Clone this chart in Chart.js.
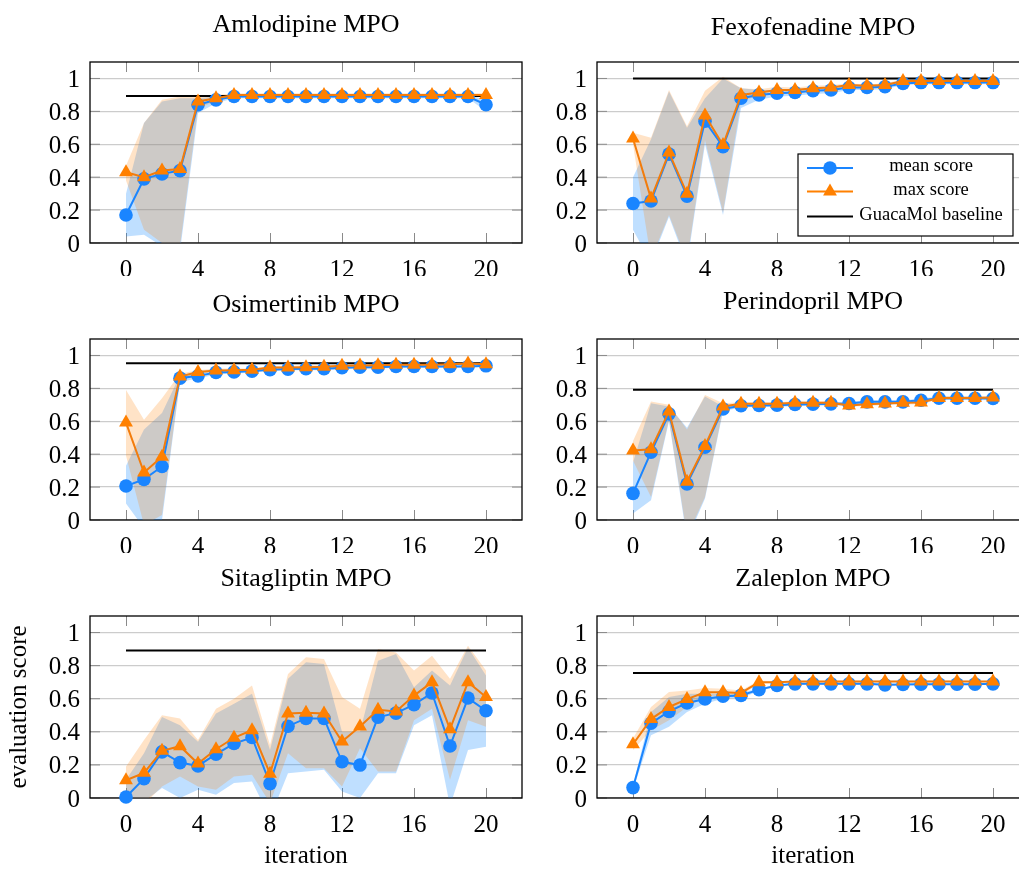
<!DOCTYPE html>
<html lang="en">
<head>
<meta charset="UTF-8">
<title>MPO benchmark scores per iteration</title>
<script src="https://cdn.jsdelivr.net/npm/chart.js"></script>
<style>
  html, body { margin: 0; padding: 0; background: #fff; overflow: hidden; }
  body { width: 1019px; height: 870px; position: relative; }
  canvas { position: absolute; }
</style>
</head>
<body>
<canvas id="c1" width="530" height="276" style="left:0;top:0"></canvas>
<canvas id="c2" width="510" height="276" style="left:527px;top:0"></canvas>
<canvas id="c3" width="530" height="276" style="left:0;top:277px"></canvas>
<canvas id="c4" width="510" height="276" style="left:527px;top:277px"></canvas>
<canvas id="c5" width="530" height="317" style="left:0;top:554px"></canvas>
<canvas id="c6" width="510" height="317" style="left:527px;top:554px"></canvas>

<script>
// x values and tick values
const iterations = [0, 1, 2, 3, 4, 5, 6, 7, 8, 9, 10, 11, 12, 13, 14, 15, 16, 17, 18, 19, 20];
const xTickValues = [0, 4, 8, 12, 16, 20];
const yTickValues = [0, 0.2, 0.4, 0.6, 0.8, 1];

// Amlodipine MPO
const amlodipineMean   = [0.17, 0.39, 0.42, 0.44, 0.84, 0.87, 0.89, 0.89, 0.89, 0.89, 0.89, 0.89, 0.89, 0.89, 0.89, 0.89, 0.89, 0.89, 0.89, 0.89, 0.84];
const amlodipineMax    = [0.43, 0.40, 0.44, 0.45, 0.86, 0.88, 0.90, 0.90, 0.90, 0.90, 0.90, 0.90, 0.90, 0.90, 0.90, 0.90, 0.90, 0.90, 0.90, 0.90, 0.90];
const amlodipineMeanLo = [0.04, 0.05, -0.02, -0.05, 0.79, 0.85, 0.88, 0.88, 0.88, 0.88, 0.88, 0.88, 0.88, 0.88, 0.88, 0.88, 0.88, 0.88, 0.88, 0.88, 0.80];
const amlodipineMeanHi = [0.30, 0.73, 0.86, 0.88, 0.88, 0.89, 0.90, 0.90, 0.90, 0.90, 0.90, 0.90, 0.90, 0.90, 0.90, 0.90, 0.90, 0.90, 0.90, 0.90, 0.87];
const amlodipineMaxLo  = [0.38, 0.08, 0.00, -0.02, 0.82, 0.86, 0.89, 0.89, 0.89, 0.89, 0.89, 0.89, 0.89, 0.89, 0.89, 0.89, 0.89, 0.89, 0.89, 0.89, 0.89];
const amlodipineMaxHi  = [0.47, 0.73, 0.87, 0.89, 0.89, 0.90, 0.91, 0.91, 0.91, 0.91, 0.91, 0.91, 0.91, 0.91, 0.91, 0.91, 0.91, 0.91, 0.91, 0.91, 0.91];
const amlodipineBaseline = 0.894;

// Fexofenadine MPO
const fexofenadineMean   = [0.24, 0.255, 0.54, 0.285, 0.74, 0.585, 0.88, 0.90, 0.91, 0.915, 0.925, 0.93, 0.945, 0.945, 0.95, 0.97, 0.975, 0.975, 0.975, 0.975, 0.975];
const fexofenadineMax    = [0.635, 0.27, 0.55, 0.30, 0.775, 0.595, 0.90, 0.915, 0.93, 0.93, 0.94, 0.945, 0.96, 0.955, 0.96, 0.985, 0.985, 0.985, 0.985, 0.985, 0.985];
const fexofenadineMeanLo = [0.08, -0.12, 0.16, -0.13, 0.60, 0.17, 0.82, 0.87, 0.89, 0.895, 0.905, 0.91, 0.93, 0.93, 0.935, 0.96, 0.965, 0.965, 0.965, 0.965, 0.965];
const fexofenadineMeanHi = [0.40, 0.63, 0.92, 0.70, 0.88, 1.00, 0.94, 0.93, 0.93, 0.935, 0.945, 0.95, 0.96, 0.96, 0.965, 0.98, 0.985, 0.985, 0.985, 0.985, 0.985];
const fexofenadineMaxLo  = [0.60, -0.10, 0.17, -0.11, 0.625, 0.185, 0.86, 0.895, 0.91, 0.915, 0.925, 0.93, 0.95, 0.945, 0.95, 0.975, 0.975, 0.975, 0.975, 0.975, 0.975];
const fexofenadineMaxHi  = [0.67, 0.64, 0.93, 0.71, 0.925, 1.01, 0.94, 0.935, 0.95, 0.945, 0.955, 0.96, 0.97, 0.965, 0.97, 0.995, 0.995, 0.995, 0.995, 0.995, 0.995];
const fexofenadineBaseline = 1.0;

// Osimertinib MPO
const osimertinibMean   = [0.207, 0.247, 0.325, 0.862, 0.876, 0.897, 0.90, 0.905, 0.913, 0.917, 0.919, 0.919, 0.925, 0.929, 0.929, 0.933, 0.933, 0.933, 0.933, 0.933, 0.937];
const osimertinibMax    = [0.592, 0.288, 0.385, 0.872, 0.899, 0.909, 0.91, 0.913, 0.927, 0.927, 0.929, 0.931, 0.937, 0.939, 0.941, 0.943, 0.943, 0.943, 0.947, 0.951, 0.947];
const osimertinibMeanLo = [0.10, -0.05, 0.00, 0.84, 0.86, 0.885, 0.89, 0.895, 0.905, 0.91, 0.91, 0.91, 0.915, 0.92, 0.92, 0.925, 0.925, 0.925, 0.925, 0.925, 0.93];
const osimertinibMeanHi = [0.33, 0.55, 0.65, 0.88, 0.89, 0.91, 0.91, 0.915, 0.92, 0.925, 0.93, 0.93, 0.935, 0.94, 0.94, 0.94, 0.94, 0.94, 0.94, 0.94, 0.945];
const osimertinibMaxLo  = [0.39, -0.03, 0.03, 0.85, 0.89, 0.90, 0.90, 0.905, 0.92, 0.92, 0.92, 0.925, 0.93, 0.93, 0.935, 0.935, 0.935, 0.935, 0.94, 0.945, 0.94];
const osimertinibMaxHi  = [0.79, 0.61, 0.74, 0.89, 0.91, 0.92, 0.92, 0.92, 0.935, 0.935, 0.94, 0.94, 0.945, 0.945, 0.95, 0.95, 0.95, 0.95, 0.955, 0.96, 0.955];
const osimertinibBaseline = 0.953;

// Perindopril MPO
const perindoprilMean   = [0.162, 0.412, 0.645, 0.219, 0.442, 0.675, 0.694, 0.696, 0.698, 0.702, 0.704, 0.706, 0.708, 0.718, 0.718, 0.718, 0.728, 0.74, 0.74, 0.74, 0.738];
const perindoprilMax    = [0.422, 0.43, 0.66, 0.233, 0.45, 0.69, 0.706, 0.706, 0.706, 0.712, 0.712, 0.712, 0.696, 0.704, 0.708, 0.712, 0.714, 0.742, 0.742, 0.742, 0.744];
const perindoprilMeanLo = [0.04, 0.12, 0.60, -0.12, 0.13, 0.66, 0.685, 0.686, 0.688, 0.692, 0.694, 0.696, 0.698, 0.708, 0.708, 0.708, 0.718, 0.73, 0.73, 0.73, 0.728];
const perindoprilMeanHi = [0.35, 0.71, 0.69, 0.56, 0.75, 0.69, 0.704, 0.706, 0.708, 0.712, 0.714, 0.716, 0.718, 0.728, 0.728, 0.728, 0.738, 0.75, 0.75, 0.75, 0.748];
const perindoprilMaxLo  = [0.36, 0.14, 0.61, -0.10, 0.14, 0.67, 0.696, 0.696, 0.696, 0.702, 0.702, 0.702, 0.686, 0.694, 0.698, 0.702, 0.704, 0.732, 0.732, 0.732, 0.734];
const perindoprilMaxHi  = [0.48, 0.72, 0.70, 0.55, 0.76, 0.71, 0.716, 0.716, 0.716, 0.722, 0.722, 0.722, 0.706, 0.714, 0.718, 0.722, 0.724, 0.752, 0.752, 0.752, 0.754];
const perindoprilBaseline = 0.792;

// Sitagliptin MPO
const sitagliptinMean   = [0.006, 0.117, 0.279, 0.214, 0.194, 0.265, 0.329, 0.366, 0.087, 0.434, 0.481, 0.481, 0.219, 0.199, 0.489, 0.513, 0.564, 0.635, 0.314, 0.604, 0.527];
const sitagliptinMax    = [0.107, 0.152, 0.285, 0.313, 0.208, 0.295, 0.364, 0.41, 0.147, 0.511, 0.515, 0.511, 0.341, 0.432, 0.533, 0.523, 0.619, 0.70, 0.416, 0.70, 0.61];
const sitagliptinMeanLo = [-0.10, -0.02, 0.06, 0.00, 0.05, 0.02, 0.09, 0.10, -0.12, 0.15, 0.16, 0.17, 0.04, 0.00, 0.15, 0.15, 0.44, 0.50, -0.05, 0.29, 0.31];
const sitagliptinMeanHi = [0.11, 0.27, 0.49, 0.44, 0.34, 0.51, 0.57, 0.63, 0.29, 0.72, 0.82, 0.81, 0.40, 0.40, 0.83, 0.87, 0.67, 0.77, 0.68, 0.91, 0.74];
const sitagliptinMaxLo  = [0.02, -0.04, 0.07, 0.13, 0.07, 0.05, 0.13, 0.14, -0.03, 0.27, 0.18, 0.18, 0.07, 0.30, 0.16, 0.16, 0.47, 0.54, 0.11, 0.47, 0.43];
const sitagliptinMaxHi  = [0.19, 0.35, 0.50, 0.48, 0.35, 0.54, 0.60, 0.68, 0.32, 0.75, 0.85, 0.84, 0.61, 0.54, 0.90, 0.88, 0.77, 0.86, 0.72, 0.92, 0.77];
const sitagliptinBaseline = 0.892;

// Zaleplon MPO
const zaleplonMean   = [0.063, 0.452, 0.523, 0.574, 0.598, 0.615, 0.62, 0.655, 0.68, 0.69, 0.69, 0.69, 0.69, 0.69, 0.684, 0.686, 0.688, 0.688, 0.688, 0.688, 0.69];
const zaleplonMax    = [0.325, 0.477, 0.55, 0.598, 0.639, 0.639, 0.635, 0.70, 0.70, 0.704, 0.704, 0.704, 0.704, 0.704, 0.704, 0.704, 0.704, 0.704, 0.704, 0.704, 0.704];
const zaleplonMeanLo = [0.05, 0.38, 0.43, 0.52, 0.57, 0.60, 0.605, 0.645, 0.675, 0.685, 0.685, 0.685, 0.685, 0.685, 0.679, 0.681, 0.683, 0.683, 0.683, 0.683, 0.685];
const zaleplonMeanHi = [0.075, 0.52, 0.61, 0.63, 0.63, 0.63, 0.635, 0.665, 0.685, 0.695, 0.695, 0.695, 0.695, 0.695, 0.689, 0.691, 0.693, 0.693, 0.693, 0.693, 0.695];
const zaleplonMaxLo  = [0.29, 0.41, 0.47, 0.55, 0.61, 0.62, 0.62, 0.69, 0.695, 0.70, 0.70, 0.70, 0.70, 0.70, 0.70, 0.70, 0.70, 0.70, 0.70, 0.70, 0.70];
const zaleplonMaxHi  = [0.36, 0.55, 0.64, 0.65, 0.665, 0.66, 0.65, 0.71, 0.705, 0.71, 0.71, 0.71, 0.71, 0.71, 0.71, 0.71, 0.71, 0.71, 0.71, 0.71, 0.71];
const zaleplonBaseline = 0.755;

const blue = '#1a85ff';
const orange = '#ff8000';
const blueBand = 'rgba(0, 128, 255, 0.25)';
const orangeBand = 'rgba(255, 128, 0, 0.22)';
const serif = "'Liberation Serif', 'Times New Roman', serif";

function pts(vals) {
    return iterations.map((x, i) => ({ x: x, y: vals[i] }));
}

// frame + inward tick marks, like pgfplots
const framePlugin = {
    id: 'frame',
    beforeDatasetsDraw(chart) {
        const { ctx, chartArea: a, scales } = chart;
        ctx.save();
        ctx.strokeStyle = '#8a8a8a';
        ctx.lineWidth = 1;
        ctx.beginPath();
        xTickValues.forEach(v => {
            const px = Math.round(scales.x.getPixelForValue(v)) + 0.5;
            ctx.moveTo(px, a.top); ctx.lineTo(px, a.top + 10);
            ctx.moveTo(px, a.bottom); ctx.lineTo(px, a.bottom - 10);
        });
        yTickValues.forEach(v => {
            const py = scales.y.getPixelForValue(v);
            ctx.moveTo(a.left, py); ctx.lineTo(a.left + 10, py);
            ctx.moveTo(a.right, py); ctx.lineTo(a.right - 10, py);
        });
        ctx.stroke();
        ctx.strokeStyle = '#000';
        ctx.lineWidth = 1.3;
        ctx.strokeRect(a.left, a.top, a.right - a.left, a.bottom - a.top);
        ctx.restore();
    }
};

// boxed legend drawn inside the Fexofenadine plot
const boxLegendPlugin = {
    id: 'boxLegend',
    afterDraw(chart, args, opts) {
        if (!opts.show) return;
        const { ctx, chartArea: a } = chart;
        const bx = a.left + 201, by = a.top + 92, bw = 215, bh = 82;
        ctx.save();
        ctx.fillStyle = '#fff';
        ctx.fillRect(bx, by, bw, bh);
        ctx.strokeStyle = '#000';
        ctx.lineWidth = 1.2;
        ctx.strokeRect(bx, by, bw, bh);
        const rows = [
            { text: 'mean score', color: blue, marker: 'circle', r: 6.8, dy: 14 },
            { text: 'max score', color: orange, marker: 'triangle', r: 8, dy: 37.5 },
            { text: 'GuacaMol baseline', color: '#000', marker: null, dy: 62.5 }
        ];
        rows.forEach(row => {
            const y = by + row.dy;
            ctx.strokeStyle = row.color;
            ctx.lineWidth = 2;
            ctx.beginPath();
            ctx.moveTo(bx + 9, y);
            ctx.lineTo(bx + 55, y);
            ctx.stroke();
            if (row.marker) {
                ctx.fillStyle = row.color;
                Chart.helpers.drawPoint(ctx, { pointStyle: row.marker, radius: row.r, borderWidth: 0 }, bx + 32, y);
            }
            ctx.fillStyle = '#000';
            ctx.font = '18.5px ' + serif;
            ctx.textAlign = 'center';
            ctx.textBaseline = 'middle';
            ctx.fillText(row.text, bx + 133, y - 1.5);
        });
        ctx.restore();
    }
};

const panels = [
    { id: 'c1', title: 'Amlodipine MPO', titlePad: 10, yW: 90, xH: 33,
      mean: amlodipineMean, max: amlodipineMax, meanLo: amlodipineMeanLo, meanHi: amlodipineMeanHi,
      maxLo: amlodipineMaxLo, maxHi: amlodipineMaxHi, baseline: amlodipineBaseline },
    { id: 'c2', title: 'Fexofenadine MPO', titlePad: 12.5, yW: 70, xH: 33, legend: true,
      mean: fexofenadineMean, max: fexofenadineMax, meanLo: fexofenadineMeanLo, meanHi: fexofenadineMeanHi,
      maxLo: fexofenadineMaxLo, maxHi: fexofenadineMaxHi, baseline: fexofenadineBaseline },
    { id: 'c3', title: 'Osimertinib MPO', titlePad: 12.5, yW: 90, xH: 33,
      mean: osimertinibMean, max: osimertinibMax, meanLo: osimertinibMeanLo, meanHi: osimertinibMeanHi,
      maxLo: osimertinibMaxLo, maxHi: osimertinibMaxHi, baseline: osimertinibBaseline },
    { id: 'c4', title: 'Perindopril MPO', titlePad: 10, yW: 70, xH: 33,
      mean: perindoprilMean, max: perindoprilMax, meanLo: perindoprilMeanLo, meanHi: perindoprilMeanHi,
      maxLo: perindoprilMaxLo, maxHi: perindoprilMaxHi, baseline: perindoprilBaseline },
    { id: 'c5', title: 'Sitagliptin MPO', titlePad: 10, yW: 90, xH: 73, xLabel: true, yLabel: true,
      mean: sitagliptinMean, max: sitagliptinMax, meanLo: sitagliptinMeanLo, meanHi: sitagliptinMeanHi,
      maxLo: sitagliptinMaxLo, maxHi: sitagliptinMaxHi, baseline: sitagliptinBaseline },
    { id: 'c6', title: 'Zaleplon MPO', titlePad: 10, yW: 70, xH: 73, xLabel: true,
      mean: zaleplonMean, max: zaleplonMax, meanLo: zaleplonMeanLo, meanHi: zaleplonMeanHi,
      maxLo: zaleplonMaxLo, maxHi: zaleplonMaxHi, baseline: zaleplonBaseline }
];

function makeChart(p) {
    const noLine = 'rgba(0,0,0,0)';
    new Chart(document.getElementById(p.id), {
        type: 'line',
        data: {
            datasets: [
                { label: 'mean low', data: pts(p.meanLo), borderColor: noLine, pointRadius: 0, fill: false, order: 6 },
                { label: 'mean high', data: pts(p.meanHi), borderColor: noLine, pointRadius: 0, fill: '-1', backgroundColor: blueBand, order: 5 },
                { label: 'max low', data: pts(p.maxLo), borderColor: noLine, pointRadius: 0, fill: false, order: 4 },
                { label: 'max high', data: pts(p.maxHi), borderColor: noLine, pointRadius: 0, fill: '-1', backgroundColor: orangeBand, order: 3 },
                { label: 'GuacaMol baseline', data: [{ x: iterations[0], y: p.baseline }, { x: iterations[iterations.length - 1], y: p.baseline }],
                  borderColor: '#000', borderWidth: 2, pointRadius: 0, fill: false, order: 2 },
                { label: 'mean score', data: pts(p.mean), borderColor: blue, backgroundColor: blue, borderWidth: 2,
                  pointStyle: 'circle', pointRadius: 6.8, pointBorderWidth: 0, fill: false, clip: false, order: 1 },
                { label: 'max score', data: pts(p.max), borderColor: '#f27c0c', backgroundColor: orange, borderWidth: 2,
                  pointStyle: 'triangle', pointRadius: 8, pointBorderWidth: 0, fill: false, clip: false, order: 0 }
            ]
        },
        options: {
            responsive: false,
            animation: false,
            layout: { padding: { right: 8 } },
            plugins: {
                legend: { display: false },
                tooltip: { enabled: false },
                boxLegend: { show: !!p.legend },
                title: {
                    display: true,
                    text: p.title,
                    color: '#000',
                    fullSize: false,
                    font: { family: serif, size: 26, weight: 'normal' },
                    padding: { top: p.titlePad, bottom: 62 - 31.2 - p.titlePad }
                }
            },
            scales: {
                x: {
                    type: 'linear',
                    min: -2,
                    max: 22,
                    afterBuildTicks: s => { s.ticks = xTickValues.map(v => ({ value: v })); },
                    afterFit: s => { s.height = p.xH; },
                    grid: { display: false },
                    border: { display: false },
                    ticks: { color: '#000', font: { family: serif, size: 25 }, padding: 4, maxRotation: 0, autoSkip: false },
                    title: {
                        display: !!p.xLabel,
                        text: 'iteration',
                        color: '#000',
                        font: { family: serif, size: 25 },
                        padding: { top: 0, bottom: 0 }
                    }
                },
                y: {
                    type: 'linear',
                    min: 0,
                    max: 1.1,
                    afterBuildTicks: s => { s.ticks = yTickValues.map(v => ({ value: v })); },
                    afterFit: s => { s.width = p.yW; },
                    grid: { color: 'rgba(0,0,0,0.2)', lineWidth: 1.3, drawTicks: false },
                    border: { display: false },
                    ticks: {
                        color: '#000',
                        font: { family: serif, size: 25 },
                        padding: 10,
                        labelOffset: 2,
                        callback: v => String(v)
                    },
                    title: {
                        display: !!p.yLabel,
                        text: 'evaluation score',
                        color: '#000',
                        font: { family: serif, size: 25 },
                        padding: { top: 4, bottom: 0 }
                    }
                }
            }
        },
        plugins: [framePlugin, boxLegendPlugin]
    });
}

panels.forEach(makeChart);
</script>
</body>
</html>
